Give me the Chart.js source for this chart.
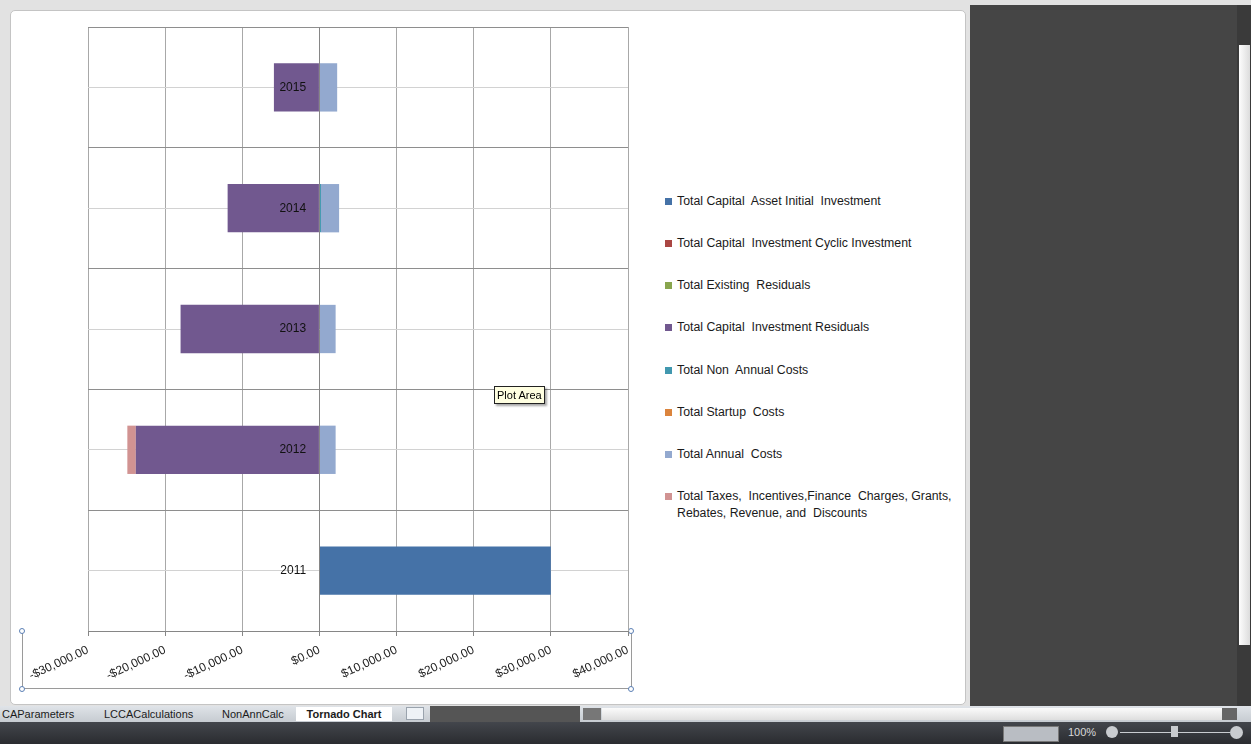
<!DOCTYPE html>
<html>
<head>
<meta charset="utf-8">
<script src="https://cdn.jsdelivr.net/npm/chart.js@4.4.1/dist/chart.umd.min.js"></script>
<style>
  body { margin: 0; width: 1251px; height: 744px; overflow: hidden; position: relative;
         background: #e2e2e2; font-family: "Liberation Sans", Arial, sans-serif; }
  .abs { position: absolute; }
  #sheet { left: 10px; top: 10px; width: 954px; height: 693px; background: #fff;
           border: 1px solid #c4c4c4; border-radius: 5px; }
  #dark { left: 970px; top: 5px; width: 267px; height: 701px; background: #454545; }
  #vscroll { left: 1237px; top: 5px; width: 14px; height: 701px; background: #3a3a3a; }
  #vthumb { left: 1239px; top: 45px; width: 11px; height: 600px; background: linear-gradient(90deg,#fdfdfd,#dcdcdc); }
  #tabs { left: 0; top: 706px; width: 1251px; height: 16px; background: linear-gradient(#dfe3e8,#c6cbd1); font-size: 11px; }
  .tab { position: absolute; top: 1px; height: 14px; line-height: 14px; color: #1b1b1b; }
  #status { left: 0; top: 722px; width: 1251px; height: 22px; background: linear-gradient(#43464c,#2a2c30); color: #d8d8d8; font-size: 11px; }
  #legend div.item { position: absolute; left: 665px; width: 300px; font-size: 12.3px; color: #1a1a1a; line-height: 17px; }
  #legend span.box { position: absolute; left: 0; top: 5px; width: 7px; height: 7px; }
  #legend span.txt { position: absolute; left: 12px; white-space: pre; }
  #tip { left: 494px; top: 386px; padding: 0 2px; height: 16px; line-height: 16px; font-size: 11px;
         background: #ffffe1; border: 1px solid #222; box-shadow: 2px 2px 2px rgba(0,0,0,0.35); }
  .handle { position: absolute; width: 4px; height: 4px; border: 1px solid #5b7fb5; border-radius: 50%; background: #fff; }
</style>
</head>
<body>
<div id="sheet" class="abs"></div>
<div id="dark" class="abs"></div>
<div id="vscroll" class="abs"></div>
<div id="vthumb" class="abs"></div>
<div class="abs" style="left:22px;top:631px;width:608px;height:57px;border:1px solid #9a9a9a;border-top:none;"></div>
<div class="handle" style="left:19px;top:628px"></div>
<div class="handle" style="left:19px;top:686px"></div>
<div class="handle" style="left:628px;top:628px"></div>
<div class="handle" style="left:628px;top:686px"></div>
<div class="abs" style="left:22px;top:20px;"><canvas id="chart" width="612" height="680"></canvas></div>
<div id="legend"></div>
<div id="tip" class="abs">Plot Area</div>

<div id="tabs" class="abs">
  <span class="tab" style="left:2px">CAParameters</span>
  <span class="tab" style="left:104px">LCCACalculations</span>
  <span class="tab" style="left:222px">NonAnnCalc</span>
  <span class="tab" style="left:296px;width:96px;background:#fff;text-align:center;font-weight:bold;">Tornado Chart</span>
  <span class="tab" style="left:406px;width:16px;background:#eef2f6;border:1px solid #9aa3ad;height:11px;"></span>
  <div class="abs" style="left:430px;top:0;width:150px;height:16px;background:#555;"></div>
  <div class="abs" style="left:583px;top:2px;width:18px;height:12px;background:#777;"></div>
  <div class="abs" style="left:602px;top:2px;width:620px;height:12px;background:linear-gradient(#fbfbfb,#dedede);"></div>
  <div class="abs" style="left:1222px;top:2px;width:15px;height:12px;background:#666;"></div>
</div>
<div id="status" class="abs">
  <div class="abs" style="left:1003px;top:4px;width:54px;height:14px;background:#b9bdc3;border:1px solid #777;"></div>
  <span class="abs" style="left:1068px;top:4px;">100%</span>
  <div class="abs" style="left:1106px;top:4px;width:12px;height:12px;border-radius:50%;background:#c9ccd0;"></div>
  <div class="abs" style="left:1120px;top:10px;width:110px;height:1px;background:#c9ccd0;"></div>
  <div class="abs" style="left:1171px;top:4px;width:7px;height:11px;background:#c9ccd0;"></div>
  <div class="abs" style="left:1230px;top:4px;width:13px;height:13px;border-radius:50%;background:#c9ccd0;"></div>
</div>

<script>
// categories (years) and series
const years = ['2011', '2012', '2013', '2014', '2015'];

const seriesNames = [
  'Total Capital  Asset Initial  Investment',
  'Total Capital  Investment Cyclic Investment',
  'Total Existing  Residuals',
  'Total Capital  Investment Residuals',
  'Total Non  Annual Costs',
  'Total Startup  Costs',
  'Total Annual  Costs',
  'Total Taxes,  Incentives,Finance  Charges, Grants,\nRebates, Revenue, and  Discounts'
];
const seriesColors = ['#4572a7', '#aa4643', '#89a54e', '#71588f', '#4198af', '#db843d', '#93a9cf', '#d19392'];

const initialInvestment   = [30000, 0, 0, 0, 0];
const cyclicInvestment    = [0, 0, 0, 0, 0];
const existingResiduals   = [0, 0, 0, 0, 0];
const investmentResiduals = [0, -23800, -18000, -11900, -5900];
const nonAnnualCosts      = [0, 0, 0, 200, 0];
const startupCosts        = [0, 0, 0, 0, 0];
const annualCosts         = [0, 2100, 2100, 2350, 2300];
const taxesIncentives     = [0, -1100, 0, 0, 0];

const xTicks = [-30000, -20000, -10000, 0, 10000, 20000, 30000, 40000];

const seriesValues = [initialInvestment, cyclicInvestment, existingResiduals, investmentResiduals,
                      nonAnnualCosts, startupCosts, annualCosts, taxesIncentives];

const FONT = '"Liberation Sans", Arial, sans-serif';

const fmtMoney = (v) => (v < 0 ? '-$' : '$') +
  Math.abs(v).toLocaleString('en-US', { minimumFractionDigits: 2, maximumFractionDigits: 2 });

// legend drawn as html, like the excel one on the right
const legendTops = [193, 235, 277, 319, 362, 404, 446, 488];
const legend = document.getElementById('legend');
seriesNames.forEach((name, i) => {
  const item = document.createElement('div');
  item.className = 'item';
  item.style.top = legendTops[i] + 'px';
  item.innerHTML = '<span class="box" style="background:' + seriesColors[i] + '"></span><span class="txt"></span>';
  item.querySelector('.txt').textContent = name;
  legend.appendChild(item);
});

new Chart(document.getElementById('chart'), {
  type: 'bar',
  data: {
    labels: years,
    datasets: seriesNames.map((name, i) => ({
      label: name.replace(/\n/g, ' '),
      data: seriesValues[i],
      backgroundColor: seriesColors[i],
      borderWidth: 0,
      categoryPercentage: 0.4,
      barPercentage: 1
    }))
  },
  options: {
    indexAxis: 'y',
    responsive: false,
    animation: false,
    layout: { padding: { left: 66, right: 6, top: 7, bottom: 0 } },
    plugins: { legend: { display: false }, tooltip: { enabled: false } },
    scales: {
      x: {
        type: 'linear',
        stacked: true,
        min: -30000,
        max: 40000,
        afterBuildTicks: (s) => { s.ticks = xTicks.map(v => ({ value: v })); },
        afterFit: (s) => { s.height = 69; s.paddingLeft = 0; s.paddingRight = 0; },
        grid: {
          color: (c) => (c.tick && c.tick.value === 0) ? '#868686' : '#a8a8a8',
          tickLength: 5,
          tickColor: '#868686'
        },
        border: { color: '#868686' },
        ticks: {
          minRotation: 25,
          maxRotation: 25,
          padding: 7,
          color: '#222',
          font: { family: FONT, size: 12 },
          callback: (v) => fmtMoney(v)
        }
      },
      y: {
        type: 'category',
        stacked: true,
        reverse: true,
        position: { x: 0 },
        afterFit: (s) => { s.paddingTop = 0; s.paddingBottom = 0; },
        grid: { display: false },
        border: { color: '#868686', z: 1 },
        // labels sit left of the zero line, on top of the bars
        ticks: { z: 1, color: '#111', font: { family: FONT, size: 12 },
                 callback: (v, i) => years[i] + '    ' }
      },
      // helper axis only for the horizontal grid (category borders + centre lines)
      yGrid: {
        type: 'linear',
        position: { x: 0 },
        offset: false,
        min: 0,
        max: 10,
        ticks: { display: false, stepSize: 1 },
        grid: {
          offset: false,
          drawTicks: false,
          color: (c) => (c.tick && c.tick.value % 2 === 0) ? '#8e8e8e' : '#d2d2d2'
        },
        border: { display: false },
        afterFit: (s) => { s.paddingTop = 0; s.paddingBottom = 0; }
      }
    }
  }
});
</script>
</body>
</html>
